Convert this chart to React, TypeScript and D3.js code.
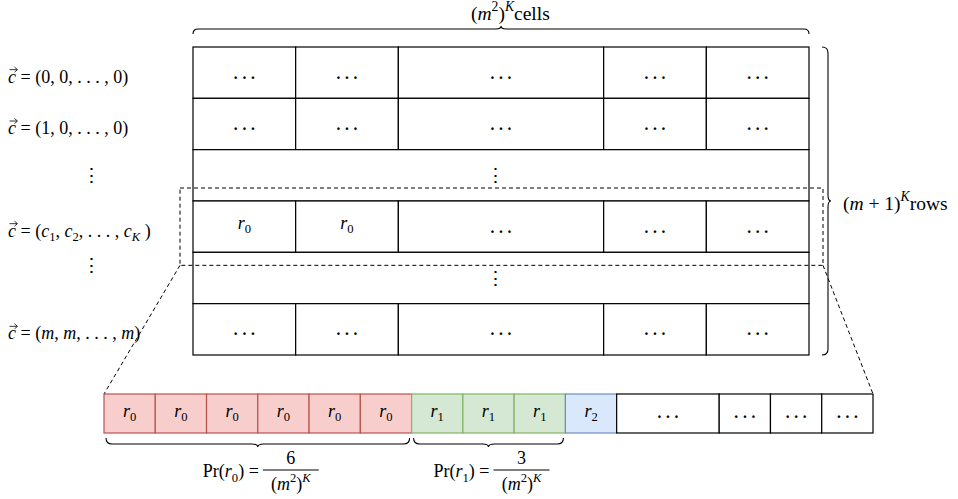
import React from "react";
import * as d3 from "d3";

// ---------- data ----------
const columnSpans = [1, 1, 2, 1, 1];
const tableRows: (string[] | null)[] = [
  ["dots", "dots", "dots", "dots", "dots"],
  ["dots", "dots", "dots", "dots", "dots"],
  null,
  ["r0", "r0", "dots", "dots", "dots"],
  null,
  ["dots", "dots", "dots", "dots", "dots"],
];
const highlightedRow = 3;

type Part = { t: string; i?: boolean; sub?: boolean; sup?: boolean };
const rowLabels: (Part[] | null)[] = [
  [{ t: " = (0, 0, . . . , 0)" }],
  [{ t: " = (1, 0, . . . , 0)" }],
  null,
  [
    { t: " = (" }, { t: "c", i: true }, { t: "1", sub: true }, { t: ", " },
    { t: "c", i: true }, { t: "2", sub: true }, { t: ", . . . , " },
    { t: "c", i: true }, { t: "K", i: true, sub: true }, { t: " )" },
  ],
  null,
  [
    { t: " = (" }, { t: "m", i: true }, { t: ", " }, { t: "m", i: true },
    { t: ", . . . , " }, { t: "m", i: true }, { t: ")" },
  ],
];

const stripLabels = ["r0", "r0", "r0", "r0", "r0", "r0", "r1", "r1", "r1", "r2", "dots", "dots", "dots", "dots"];
const stripSpans = [1, 1, 1, 1, 1, 1, 1, 1, 1, 1, 2, 1, 1, 1];
const probGroups = [
  { sym: "0", count: 6 },
  { sym: "1", count: 3 },
];

const topLabel: Part[] = [
  { t: "(" }, { t: "m", i: true }, { t: "2", sup: true }, { t: ")" }, { t: "K", i: true, sup: true }, { t: "cells" },
];
const rightLabel: Part[] = [
  { t: "(" }, { t: "m", i: true }, { t: " + 1)" }, { t: "K", i: true, sup: true }, { t: "rows" },
];
const denomParts: Part[] = [
  { t: "(" }, { t: "m", i: true }, { t: "2", sup: true }, { t: ")" }, { t: "K", i: true, sup: true },
];

// ---------- styles ----------
const FONT = "'Liberation Serif', 'DejaVu Serif', serif";
const FS = 18;
const groupStyle: Record<string, { fill: string; stroke: string }> = {
  r0: { fill: "#f8cecc", stroke: "#b85450" },
  r1: { fill: "#d5e8d4", stroke: "#82b366" },
  r2: { fill: "#dae8fc", stroke: "#6c8ebf" },
  dots: { fill: "#ffffff", stroke: "#000000" },
};

function MathText({ x, y, parts, size = FS, anchor = "start" }: { x: number; y: number; parts: Part[]; size?: number; anchor?: string }) {
  let cur = 0;
  return (
    <text x={x} y={y} fontSize={size} fontFamily={FONT} textAnchor={anchor as any}>
      {parts.map((p, k) => {
        const target = p.sub ? size * 0.25 : p.sup ? -size * 0.45 : 0;
        const dy = target - cur;
        cur = target;
        return (
          <tspan key={k} dy={dy} fontStyle={p.i ? "italic" : "normal"} fontSize={p.sub || p.sup ? size * 0.7 : size}>
            {p.t}
          </tspan>
        );
      })}
    </text>
  );
}

function RLabel({ x, y, idx, size = FS }: { x: number; y: number; idx: string; size?: number }) {
  return (
    <MathText x={x} y={y} size={size} anchor="middle" parts={[{ t: "r", i: true }, { t: idx, sub: true }]} />
  );
}

function Dots({ x, y }: { x: number; y: number }) {
  return (
    <text x={x} y={y} fontSize={16} fontWeight="bold" fontFamily={FONT} textAnchor="middle">
      {"·\u2009·\u2009·"}
    </text>
  );
}

function VDots({ x, y }: { x: number; y: number }) {
  return (
    <text x={x} y={y} fontSize={19} fontFamily="'DejaVu Serif', serif" textAnchor="middle" dominantBaseline="central">
      {"⋮"}
    </text>
  );
}

// brace from (x1,y1) to (x2,y2); tip on the left side of the travel direction
function Brace({ x1, y1, x2, y2, h = 5, tip = 3 }: { x1: number; y1: number; x2: number; y2: number; h?: number; tip?: number }) {
  const L = Math.hypot(x2 - x1, y2 - y1);
  const ang = (Math.atan2(y2 - y1, x2 - x1) * 180) / Math.PI;
  const m = L / 2;
  const r = h;
  const p = d3.path();
  p.moveTo(0, 0);
  p.quadraticCurveTo(0, -h, r, -h);
  p.lineTo(m - r, -h);
  p.quadraticCurveTo(m, -h, m, -h - tip);
  p.quadraticCurveTo(m, -h, m + r, -h);
  p.lineTo(L - r, -h);
  p.quadraticCurveTo(L, -h, L, 0);
  return <path d={p.toString()} transform={`translate(${x1},${y1}) rotate(${ang})`} fill="none" stroke="#000" strokeWidth={1.1} />;
}

export default function App() {
  const W = 958, H = 499;
  const tableLeft = 193, tableRight = 809, tableTop = 47, tableBottom = 355;
  const totalUnits = d3.sum(columnSpans);
  const x = d3.scaleLinear().domain([0, totalUnits]).range([tableLeft, tableRight]);
  const y = d3.scaleBand<number>().domain(d3.range(tableRows.length)).range([tableTop, tableBottom]).padding(0);
  const colStarts = d3.cumsum([0, ...columnSpans]);

  const stripLeft = 104, stripRight = 873, stripTop = 394, stripBottom = 433;
  const sx = d3.scaleLinear().domain([0, d3.sum(stripSpans)]).range([stripLeft, stripRight]);
  const sStarts = d3.cumsum([0, ...stripSpans]);

  const dashL = 180, dashR = 823;
  const dashT = y(highlightedRow)! - 13, dashB = y(highlightedRow)! + y.bandwidth() + 13;

  const rowCells: JSX.Element[] = [];
  tableRows.forEach((row, ri) => {
    const y0 = y(ri)!;
    const bh = y.bandwidth();
    const cy = y0 + bh / 2;
    if (!row) {
      rowCells.push(<rect key={`m${ri}`} x={tableLeft} y={y0} width={tableRight - tableLeft} height={bh} fill="#fff" stroke="#000" strokeWidth={1.2} />);
      rowCells.push(<VDots key={`v${ri}`} x={x(totalUnits / 2) - 6} y={cy} />);
      return;
    }
    row.forEach((c, ci) => {
      const x0 = x(colStarts[ci]), x1 = x(colStarts[ci + 1]);
      rowCells.push(<rect key={`c${ri}-${ci}`} x={x0} y={y0} width={x1 - x0} height={bh} fill="#fff" stroke="#000" strokeWidth={1.2} />);
      const cx = (x0 + x1) / 2;
      if (c === "dots") rowCells.push(<Dots key={`d${ri}-${ci}`} x={cx} y={cy + 10} />);
      else rowCells.push(<RLabel key={`r${ri}-${ci}`} x={cx} y={cy + 2} idx={c.slice(1)} />);
    });
  });

  // probability braces over groups
  let acc = 0;
  const groups = probGroups.map((g) => {
    const a = acc;
    acc += g.count;
    return { ...g, x0: sx(a) + 2, x1: sx(acc) - 2 };
  });

  return (
    <svg width={W} height={H} viewBox={`0 0 ${W} ${H}`} style={{ display: "block", position: "absolute", left: 0, top: 0 }}>
      <rect width={W} height={H} fill="#fff" />
      {/* table */}
      {rowCells}

      {/* dashed highlight */}
      <rect x={dashL} y={dashT} width={dashR - dashL} height={dashB - dashT} fill="none" stroke="#000" strokeWidth={1} strokeDasharray="4 3" />
      <line x1={dashL} y1={dashB} x2={stripLeft} y2={stripTop} stroke="#000" strokeWidth={1} strokeDasharray="4 3" />
      <line x1={dashR} y1={dashB} x2={stripRight} y2={stripTop} stroke="#000" strokeWidth={1} strokeDasharray="4 3" />

      {/* row labels */}
      {rowLabels.map((lab, ri) => {
        const cy = y(ri)! + y.bandwidth() / 2;
        if (!lab) return <VDots key={ri} x={91} y={ri === 4 ? cy - 13 : cy} />;
        const lx = 8, ly = cy + 10;
        return (
          <g key={ri}>
            <MathText x={lx} y={ly} parts={[{ t: "c", i: true }, ...lab]} />
            <line x1={lx + 1.5} y1={ly - 13} x2={lx + 9} y2={ly - 13} stroke="#000" strokeWidth={0.8} />
            <path d={`M${lx + 6.5},${ly - 15.5} L${lx + 9.5},${ly - 13} L${lx + 6.5},${ly - 10.5}`} fill="none" stroke="#000" strokeWidth={0.8} />
          </g>
        );
      })}

      {/* top brace & label */}
      <Brace x1={tableLeft} y1={34} x2={tableRight} y2={34} h={5} tip={3} />
      <MathText x={471} y={20} size={19.5} parts={topLabel} />

      {/* right brace & label */}
      <Brace x1={822} y1={tableTop} x2={822} y2={tableBottom} h={6} tip={3} />
      <MathText x={843} y={210} size={19.5} parts={rightLabel} />

      {/* strip */}
      {stripLabels.map((c, k) => {
        const x0 = sx(sStarts[k]), x1 = sx(sStarts[k + 1]);
        const st = groupStyle[c];
        return <rect key={`s${k}`} x={x0} y={stripTop} width={x1 - x0} height={stripBottom - stripTop} fill={st.fill} stroke={st.stroke} strokeWidth={1.2} />;
      })}
      {stripLabels.map((c, k) => {
        const cx = (sx(sStarts[k]) + sx(sStarts[k + 1])) / 2;
        const cy = (stripTop + stripBottom) / 2;
        return c === "dots" ? <Dots key={`t${k}`} x={cx} y={cy + 8} /> : <RLabel key={`t${k}`} x={cx} y={cy + 3} idx={c.slice(1)} />;
      })}

      {/* probability braces */}
      {groups.map((g) => {
        const mid = (g.x0 + g.x1) / 2;
        const fx = mid + 33;
        return (
          <g key={g.sym}>
            <Brace x1={g.x1} y1={438} x2={g.x0} y2={438} h={6} tip={3} />
            <MathText x={mid + 1} y={477} anchor="end" parts={[{ t: "Pr(" }, { t: "r", i: true }, { t: g.sym, sub: true }, { t: ") =" }]} />
            <text x={fx} y={464} fontSize={FS} fontFamily={FONT} textAnchor="middle">{g.count}</text>
            <line x1={fx - 28} x2={fx + 28} y1={470} y2={470} stroke="#000" strokeWidth={1} />
            <MathText x={fx} y={490} anchor="middle" parts={denomParts} />
          </g>
        );
      })}
    </svg>
  );
}
